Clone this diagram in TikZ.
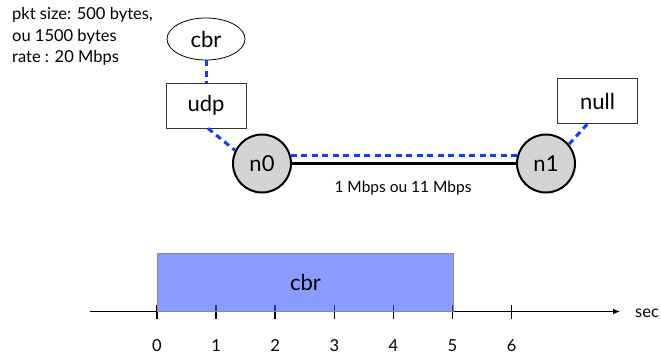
\documentclass[tikz,border=0pt]{standalone}
\usepackage{fontspec}
\setmainfont{Lato}
\usetikzlibrary{shapes.geometric,arrows.meta,calc}
\definecolor{linkblue}{RGB}{20,60,255}
\definecolor{nodegray}{RGB}{212,212,212}
\definecolor{barblue}{RGB}{60,92,255}
\begin{document}
\begin{tikzpicture}[x=1pt,y=-1pt,
  big/.style={font=\fontsize{22}{24}\selectfont},
  host/.style={circle,draw,line width=2pt,fill=nodegray,minimum size=58pt,inner sep=0pt,big},
  agent/.style={rectangle,draw=black!80,line width=0.8pt,minimum width=80pt,minimum height=45pt,inner sep=0pt,big},
  app/.style={ellipse,draw,line width=0.8pt,minimum width=78pt,minimum height=42pt,inner sep=0pt,big},
  flow/.style={draw=linkblue,line width=3pt,dash pattern=on 6pt off 4.5pt},
  small/.style={font=\fontsize{16.5}{21.5}\selectfont,inner sep=0pt},
  tickmark/.style={line width=1.6pt},
]
\useasboundingbox (0,0) rectangle (661,356);
% top part
\node[small,align=left,anchor=west] (info) at (12,36.5) {pkt size: 500 bytes,\\ou 1500 bytes\\rate : 20 Mbps};
\node[app] (cbr) at (206,39) {cbr};
\node[agent] (udp) at (206,105.5) {udp};
\node[host] (n0) at (262,163.5) {n0};
\node[host] (n1) at (546,163.5) {n1};
\node[agent] (null) at (597.5,101) {null};
\draw[line width=3pt] (n0.east) -- (n1.west);
\draw[flow] (n0.16) -- (n1.164);
\draw[flow] (cbr) -- (udp);
\draw[flow] ([xshift=2pt]udp.south) -- (n0.154);
\draw[flow] (n1.40) -- ([xshift=-10pt]null.south);
\node[small,font=\fontsize{15.5}{18}\selectfont] (rate) at (403,188) {1 Mbps ou 11 Mbps};
% timeline
\coordinate (ax0) at (90,311.5);
\coordinate (ax1) at (620,311.5);
\draw[line width=1.2pt,-{Latex[length=7pt,width=6pt]}] (ax0) -- (ax1);
\foreach \i in {0,...,6}{
  \coordinate (t\i) at (157+59.1*\i,311.5);
  \draw[tickmark] ($(t\i)+(0,-7)$) -- ($(t\i)+(0,7)$);
  \node[small] (l\i) at ($(t\i)+(0,34.5)$) {\i};
}
\node[rectangle,draw=black!45,line width=1pt,fill=barblue,fill opacity=0.6,text opacity=1,draw opacity=1,
  minimum width=296pt,minimum height=58pt,anchor=south west,big] (bar) at (157,311.5) {cbr};
\node[small,anchor=west] (sec) at (635,313) {sec};
\end{tikzpicture}
\end{document}
